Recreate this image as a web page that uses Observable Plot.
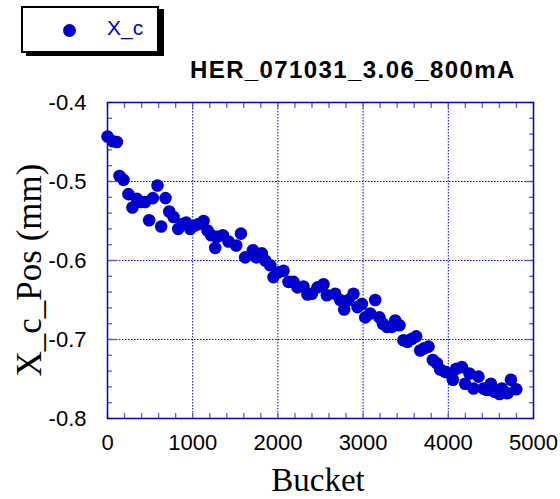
<!DOCTYPE html>
<html>
<head>
<meta charset="utf-8">
<script src="https://cdn.jsdelivr.net/npm/d3@7"></script>
<script src="https://cdn.jsdelivr.net/npm/@observablehq/plot@0.6"></script>
<style>
  html, body { margin: 0; padding: 0; background: white; }
  #wrap { position: relative; width: 560px; height: 499px; overflow: hidden; }
  #legend { position: absolute; left: 21px; top: 6px; width: 134px; height: 43px;
            border: 2px solid black; background: white; box-shadow: 5px 3px 0 black; }
  #legend .dot { position: absolute; left: 40px; top: 16px; width: 13px; height: 13px;
                 border-radius: 50%; background: #0000cc; }
  #legend .lab { position: absolute; left: 84px; top: 8px; font: 21px "Liberation Sans", Arial, sans-serif;
                 color: #0000cc; }
  #title { position: absolute; left: 190px; top: 56px; font: bold 24px "Liberation Sans", Arial, sans-serif;
           letter-spacing: 1.4px; color: black; white-space: nowrap; }
  #ylab { position: absolute; left: 30px; top: 270px; transform: translate(-50%, -50%) rotate(-90deg);
          font: 35px "Liberation Serif", "Times New Roman", serif; white-space: nowrap; }
  #xlab { position: absolute; left: 318px; top: 462px; transform: translateX(-50%);
          font: 33px "Liberation Serif", "Times New Roman", serif; white-space: nowrap; }
  #chart { position: absolute; left: 0; top: 0; }
</style>
</head>
<body>
<div id="wrap">
  <div id="chart"></div>
  <div id="legend"><div class="dot"></div><div class="lab">X_c</div></div>
  <div id="title">HER_071031_3.06_800mA</div>
  <div id="ylab">X_c_Pos (mm)</div>
  <div id="xlab">Bucket</div>
</div>
<script>
// ---- data ----
const seriesName = "X_c";
const chartTitle = "HER_071031_3.06_800mA";
const xLabel = "Bucket";
const yLabel = "X_c_Pos (mm)";
const xTicks = [0, 1000, 2000, 3000, 4000, 5000];
const yTicks = [-0.8, -0.7, -0.6, -0.5, -0.4];
const bucket = [
  0, 63, 110, 141, 188, 246, 293, 345, 392, 442,
  489, 533, 587, 630, 681, 724, 775, 830, 880, 924,
  971, 1018, 1068, 1127, 1174, 1217, 1264, 1284, 1354, 1420,
  1511, 1566, 1616, 1707, 1745, 1812, 1851, 1910, 1948, 2007,
  2066, 2124, 2183, 2230, 2300, 2347, 2399, 2465, 2535, 2575,
  2672, 2731, 2778, 2829, 2887, 2934, 2986, 3025, 3083, 3142,
  3192, 3232, 3279, 3338, 3377, 3427, 3474, 3521, 3573, 3623,
  3670, 3717, 3768, 3819, 3866, 3905, 3964, 4022, 4054, 4093,
  4160, 4198, 4249, 4296, 4354, 4413, 4453, 4500, 4539, 4601,
  4629, 4695, 4735, 4797
];
const xcPos = [
  -0.443, -0.449, -0.450, -0.493, -0.498, -0.516, -0.533, -0.522, -0.526, -0.526,
  -0.549, -0.521, -0.505, -0.557, -0.521, -0.538, -0.545, -0.560, -0.554, -0.552,
  -0.560, -0.556, -0.554, -0.550, -0.562, -0.568, -0.584, -0.570, -0.568, -0.576,
  -0.581, -0.566, -0.596, -0.587, -0.596, -0.591, -0.600, -0.606, -0.621, -0.615,
  -0.613, -0.627, -0.627, -0.634, -0.633, -0.643, -0.642, -0.634, -0.630, -0.644,
  -0.642, -0.650, -0.662, -0.650, -0.642, -0.659, -0.655, -0.672, -0.667, -0.650,
  -0.672, -0.680, -0.684, -0.684, -0.676, -0.682, -0.701, -0.703, -0.699, -0.696,
  -0.714, -0.711, -0.709, -0.726, -0.730, -0.738, -0.741, -0.743, -0.751, -0.737,
  -0.735, -0.756, -0.743, -0.762, -0.747, -0.762, -0.764, -0.756, -0.766, -0.769,
  -0.762, -0.768, -0.751, -0.763
];

const data = bucket.map((b, i) => ({bucket: b, pos: xcPos[i]}));
const minorX = d3.range(0, 5001, 200);
const minorY = d3.range(-0.8, -0.3999, 0.02).map(v => +v.toFixed(2));
const gridXv = xTicks.slice(1, -1);
const gridYv = yTicks.slice(1, -1);
const blue = "#0000cc";
const tickBlue = "#5a5ae0";

const chart = Plot.plot({
  width: 560,
  height: 499,
  marginLeft: 107,
  marginRight: 27,
  marginTop: 102,
  marginBottom: 81,
  style: {fontFamily: "'Liberation Sans', Arial, sans-serif", fontSize: "22px", background: "white", color: "black"},
  x: {domain: [0, 5000]},
  y: {domain: [-0.8, -0.4]},
  marks: [
    Plot.gridX(gridXv, {stroke: blue, strokeOpacity: 1, strokeDasharray: "1.5,1.5"}),
    Plot.gridY(gridYv, {stroke: blue, strokeOpacity: 1, strokeDasharray: "1.5,1.5"}),
    Plot.axisX(minorX, {anchor: "bottom", tickSize: -5, text: null, stroke: tickBlue, strokeWidth: 1.3, label: null}),
    Plot.axisX(minorX, {anchor: "top", tickSize: -5, text: null, stroke: tickBlue, strokeWidth: 1.3, label: null}),
    Plot.axisY(minorY, {anchor: "left", tickSize: -5, text: null, stroke: tickBlue, strokeWidth: 1.3, label: null}),
    Plot.axisY(minorY, {anchor: "right", tickSize: -5, text: null, stroke: tickBlue, strokeWidth: 1.3, label: null}),
    Plot.axisY(gridYv, {anchor: "left", tickSize: -10, text: null, stroke: tickBlue, strokeWidth: 1.3, label: null}),
    Plot.axisY(gridYv, {anchor: "right", tickSize: -10, text: null, stroke: tickBlue, strokeWidth: 1.3, label: null}),
    Plot.axisX(xTicks, {anchor: "bottom", tickSize: 0, tickPadding: 16, label: null, fill: "black", tickFormat: d => String(d)}),
    Plot.axisY(yTicks, {anchor: "left", tickSize: 0, tickPadding: 21, label: null, fill: "black", tickFormat: d => d.toFixed(1)}),
    Plot.frame({stroke: blue, strokeWidth: 1.5}),
    Plot.dot(data, {x: "bucket", y: "pos", r: 6.3, fill: blue, stroke: null})
  ]
});
document.getElementById("chart").appendChild(chart);
document.querySelector("#legend .lab").textContent = seriesName;
document.getElementById("title").textContent = chartTitle;
document.getElementById("xlab").textContent = xLabel;
document.getElementById("ylab").textContent = yLabel;
</script>
</body>
</html>
